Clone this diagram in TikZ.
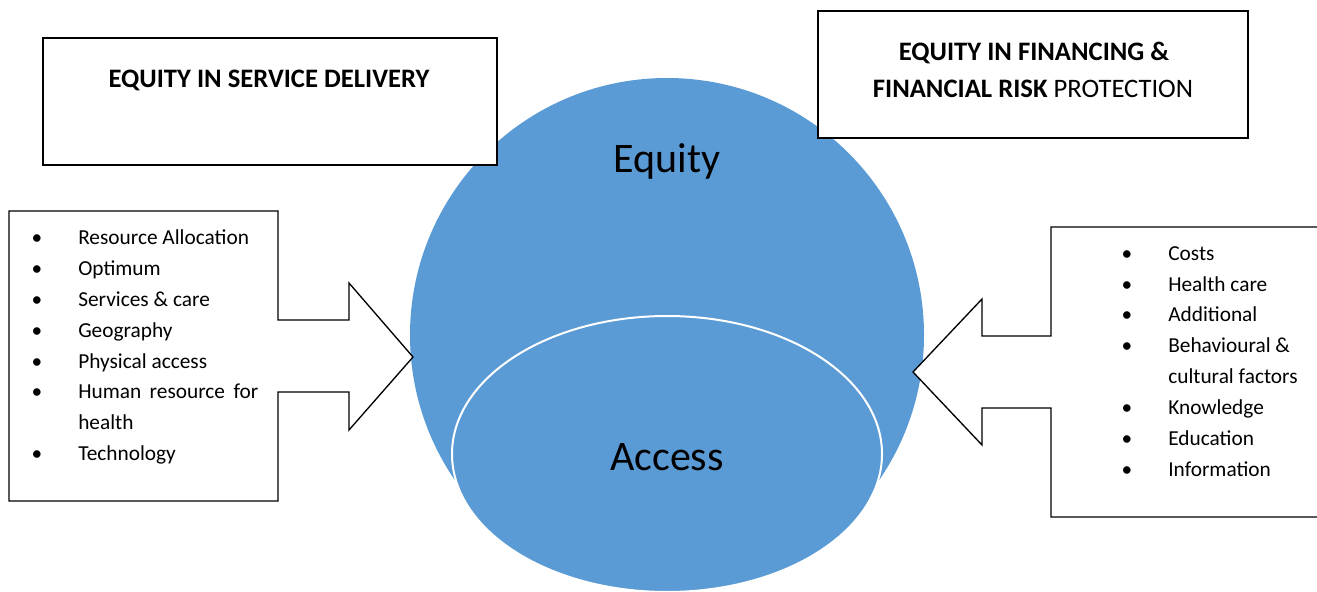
\documentclass[tikz,border=0pt]{standalone}
\usepackage{fontspec}
\setmainfont{Carlito}
\definecolor{eqblue}{HTML}{5B9BD5}
\begin{document}
\begin{tikzpicture}[x=0.75pt,y=-0.75pt,
  frame/.style={draw=black,line width=1.1pt,fill=white,inner sep=0pt},
  callout/.style={draw=black,fill=white,line width=1pt,line join=miter},
  item/.style={anchor=base west,inner sep=0pt,font=\fontsize{16}{18}\selectfont},
  dot/.style={anchor=base,inner sep=0pt,font=\fontsize{16}{18}\selectfont},
  heading/.style={anchor=base,inner sep=0pt,font=\fontsize{20}{24}\selectfont},
  biglabel/.style={anchor=base,inner sep=0pt,font=\fontsize{31.5}{36}\selectfont}]
\useasboundingbox (0,0) rectangle (1317,592);

% central circle and the access ellipse
\fill[eqblue] (667,335) circle[radius=192.75pt];
\draw[white,line width=1.5pt,fill=eqblue] (667,454) ellipse[x radius=161.25pt,y radius=103.5pt];
\node[biglabel] (equity) at (667,172) {Equity};
\node[biglabel] (access) at (667,470) {Access};

% heading boxes
\node[frame,minimum width=340.5pt,minimum height=95.25pt] (servbox) at (270,101.5) {};
\node[heading] (servtitle) at (269,88) {\bfseries EQUITY IN SERVICE DELIVERY};
\node[frame,minimum width=322.5pt,minimum height=95.25pt] (finbox) at (1033,74.5) {};
\node[heading] (fintitle1) at (1034,61) {\bfseries EQUITY IN FINANCING \&};
\node[heading] (fintitle2) at (1033,98) {\textbf{FINANCIAL RISK} PROTECTION};

% left callout pointing right
\draw[callout] (9,211) -- (278,211) -- (278,320) -- (349,320) -- (349,283)
  -- (413,357) -- (349,430) -- (349,392) -- (278,392) -- (278,501) -- (9,501) -- cycle;
% right callout pointing left (open on the right edge)
\filldraw[callout] (1320,227) -- (1051,227) -- (1051,336) -- (982,336) -- (982,299)
  -- (913,372) -- (982,445) -- (982,408) -- (1051,408) -- (1051,517) -- (1320,517);

% left list
\foreach \n/\y/\t in {l1/244/Resource Allocation,l2/275/Optimum,l3/306/Services \& care,
  l4/337/Geography,l5/368/Physical access,l7/460/Technology}{
  \node[dot] (b\n) at (37,\y) {•};
  \node[item] (\n) at (78,\y) {\t};
}
\node[dot] (bl6) at (37,398) {•};
\node[item] (l6) at (78,398) {\makebox[135pt][s]{Human resource for}};
\node[item] (l6b) at (78,429) {health};

% right list
\foreach \n/\y/\t in {r1/260/Costs,r2/291/Health care,r3/321/Additional,
  r4/352/Behavioural \&,r6/414/Knowledge,r7/445/Education,r8/476/Information}{
  \node[dot] (b\n) at (1127,\y) {•};
  \node[item] (\n) at (1168,\y) {\t};
}
\node[item] (r5) at (1168,383) {cultural factors};
\end{tikzpicture}
\end{document}
